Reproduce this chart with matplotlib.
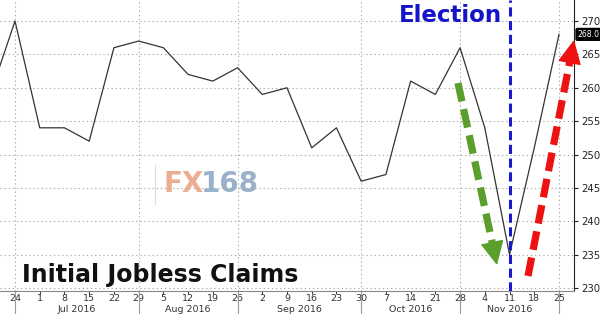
import matplotlib
matplotlib.use('Agg')
import matplotlib.pyplot as plt
import matplotlib.transforms as mtransforms
from matplotlib.lines import Line2D
import numpy as np
import pandas as pd

# ---- data ----
week_ending = pd.date_range('2016-06-17', '2016-11-25', freq='7D')
claims = [259, 270, 254, 254, 252, 266, 267, 266, 262, 261, 263, 259,
          260, 251, 254, 246, 247, 261, 259, 266, 254, 235, 251, 268]
y_ticks = [230, 235, 240, 245, 250, 255, 260, 265, 270]
x_tick_dates = pd.date_range('2016-06-24', '2016-11-25', freq='7D')
month_separators = pd.to_datetime(['2016-06-24', '2016-07-29', '2016-08-26',
                                   '2016-09-30', '2016-10-28', '2016-11-25'])
month_labels = ['Jul 2016', 'Aug 2016', 'Sep 2016', 'Oct 2016', 'Nov 2016']
election_date = pd.Timestamp('2016-11-11')
title = 'Initial Jobless Claims'
last_value = claims[-1]

# ---- figure ----
fig = plt.figure(figsize=(6, 3.14), dpi=100)
ax = fig.add_axes([0, 1 - 291 / 314, 574 / 600, 291 / 314])

ax.plot(week_ending, claims, color='#333333', lw=0.9, zorder=3)

pad = pd.Timedelta(days=4.25)
ax.set_xlim(x_tick_dates[0] - pad, x_tick_dates[-1] + pad)
ax.set_ylim(229.55, 273.15)

# grid
for y in y_ticks:
    ax.axhline(y, color='#aaaaaa', lw=0.8, ls=(0, (1.2, 2.5)), zorder=1)
for d in month_separators:
    ax.axvline(d, color='#aaaaaa', lw=0.8, ls=(0, (1.2, 2.5)), zorder=1)
    ax.axvline(d, ymin=-0.08, ymax=0, color='#999999', lw=0.8, clip_on=False)

# spines
for s in ['top', 'left']:
    ax.spines[s].set_visible(False)
ax.spines['bottom'].set_color('#888888')
ax.spines['bottom'].set_linewidth(0.8)
ax.spines['right'].set_color('#222222')
ax.spines['right'].set_linewidth(0.8)

# ticks
ax.yaxis.tick_right()
ax.set_yticks(y_ticks)
ax.set_yticklabels([str(v) for v in y_ticks])
ax.tick_params(axis='y', direction='out', length=3, width=0.8, pad=2,
               labelsize=7.3, colors='#222222')
ax.set_xticks(x_tick_dates)
ax.set_xticklabels([str(d.day) for d in x_tick_dates])
ax.tick_params(axis='x', direction='out', length=2, width=0.7, pad=0.3,
               labelsize=6.8, colors='#333333')

blend = mtransforms.blended_transform_factory(ax.transData, ax.transAxes)
for i, lab in enumerate(month_labels):
    mid = month_separators[i] + (month_separators[i + 1] - month_separators[i]) / 2
    ax.text(mid, -(309 - 291) / 291, lab, transform=blend, ha='center', va='center',
            fontsize=6.8, color='#333333')

# election line
ax.axvline(election_date, color='#1a1acc', lw=2.2, ls=(0, (3, 1.5)), zorder=4)
ax.text(502 / 574, 1 - 15 / 291, 'Election', transform=ax.transAxes,
        ha='right', va='center', fontsize=16.5, fontweight='bold',
        color='#1414c8')

# title
ax.text(22 / 574, 1 - 275 / 291, title, transform=ax.transAxes,
        ha='left', va='center', fontsize=17, fontweight='bold', color='#111111')

# last value label
blend_y = mtransforms.blended_transform_factory(ax.transAxes, ax.transData)
ax.text(1.006, last_value, f'{last_value:.1f}', transform=blend_y,
        ha='left', va='center', fontsize=5.6, color='white',
        bbox=dict(boxstyle='round,pad=0.18', fc='black', ec='black'))


# arrows: dashed shaft + solid head (pixel positions in axes fraction)
def dashed_arrow(tail, tip, color):
    t = np.array([tail[0] / 574, 1 - tail[1] / 291])
    h = np.array([tip[0] / 574, 1 - tip[1] / 291])
    # shaft ends a bit before the tip
    tp = np.array(tail, float)
    hp = np.array(tip, float)
    v = (hp - tp) / np.linalg.norm(hp - tp)
    shaft_end = hp - v * 14
    se = np.array([shaft_end[0] / 574, 1 - shaft_end[1] / 291])
    ax.plot([t[0], se[0]], [t[1], se[1]], transform=ax.transAxes, color=color,
            lw=5.2, ls=(0, (2.6, 1.1)), dash_capstyle='butt', clip_on=False,
            zorder=5)
    back = hp - v * 20
    b = np.array([back[0] / 574, 1 - back[1] / 291])
    ax.annotate('', xy=tuple(h), xytext=tuple(b),
                xycoords='axes fraction', textcoords='axes fraction',
                arrowprops=dict(arrowstyle='-|>,head_width=0.42,head_length=0.85',
                                mutation_scale=18, lw=1, color=color,
                                shrinkA=0, shrinkB=0),
                zorder=5, annotation_clip=False)


dashed_arrow((458, 83), (497, 265), '#5a9e2c')
dashed_arrow((528, 276), (574, 40), '#ee1111')

# watermark
fig.text(163 / 600, 1 - 184 / 314, 'FX', ha='left', va='center', fontsize=20,
         fontweight='bold', color='#eba486', alpha=0.9)
fig.text(201 / 600, 1 - 184 / 314, '168', ha='left', va='center', fontsize=20,
         fontweight='bold', color='#8eaac4', alpha=0.9)
fig.add_artist(Line2D([155 / 600, 155 / 600], [1 - 165 / 314, 1 - 204 / 314],
                      transform=fig.transFigure, color='#dddddd', lw=0.8))

fig.savefig('out.png', dpi=100)
